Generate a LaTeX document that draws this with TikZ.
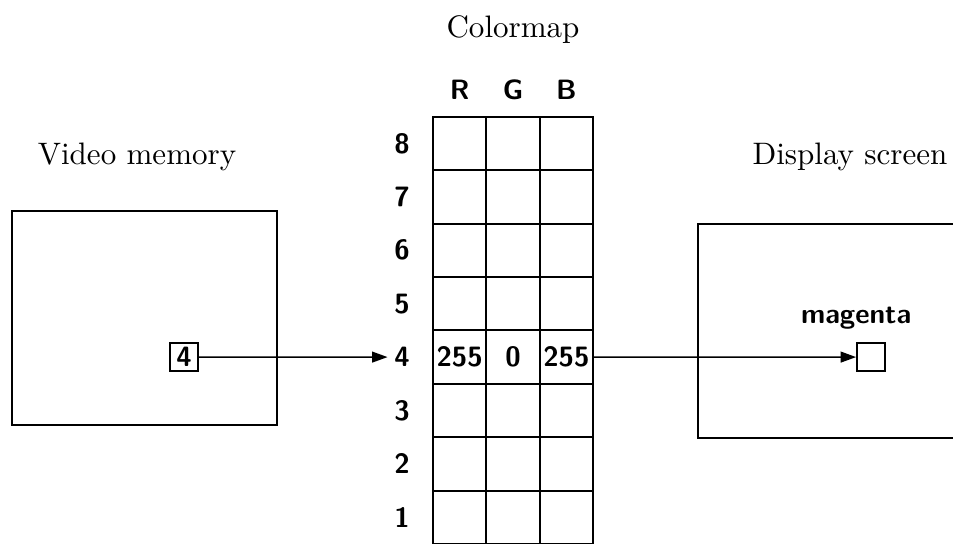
\documentclass[tikz,border=0pt]{standalone}
\usepackage{tikz}
\usetikzlibrary{arrows.meta, positioning}

\begin{document}
\begin{tikzpicture}[
    x=0.3222pt, y=0.3222pt,
    node distance=3pt,
    title/.style={font=\normalsize},
    cell/.style={draw, line width=0.6pt, minimum width=17.18pt, minimum height=17.2pt, inner sep=0pt},
    index/.style={font=\small\sffamily\bfseries, inner sep=2pt},
    pixel/.style={draw, line width=0.6pt, minimum size=9pt, inner sep=0pt, font=\small\sffamily\bfseries},
    frame/.style={draw, line width=0.6pt},
    arrow/.style={-{Triangle[length=5pt, width=3.5pt]}, line width=0.5pt}
]
    \useasboundingbox (0,0) rectangle (953,544);
    \clip (0,0) rectangle (953,544);

    % Titles
    \node[title] (vmtitle) at (137,387) {Video memory};
    \node[title] (cmtitle) at (513,514) {Colormap};
    \node[title] (dstitle) at (850,387) {Display screen};

    % Colormap - cells and row numbers
    \foreach \r in {1,...,8} {
        \foreach \c in {1,2,3}
            \node[cell] (c\r\c) at ({433+53.33*(\c-0.5)}, {53.4*(\r-0.5)}) {};
        \node[index, left=5pt of c\r1] (idx\r) {\r};
    }
    \foreach \c/\name in {1/R, 2/G, 3/B}
        \node[index, above=3pt of c8\c] (col\name) {\name};

    % Colormap - entry 4
    \node[index] (red4) at (c41) {255};
    \node[index] (green4) at (c42) {0};
    \node[index] (blue4) at (c43) {255};

    % Video memory
    \draw[frame] (12,119) rectangle (277,333);
    \node[pixel] (val) at (184,186.9) {4};

    % Display screen
    \draw[frame] (990,320) -- (698,320) -- (698,106) -- (990,106);
    \node[pixel] (pix) at (871,186.9) {};
    \node[index, above=2pt of pix.north west] (mag) {magenta};

    % Arrows
    \draw[arrow] (val) -- (idx4);
    \draw[arrow] (c43) -- (pix);
\end{tikzpicture}
\end{document}
